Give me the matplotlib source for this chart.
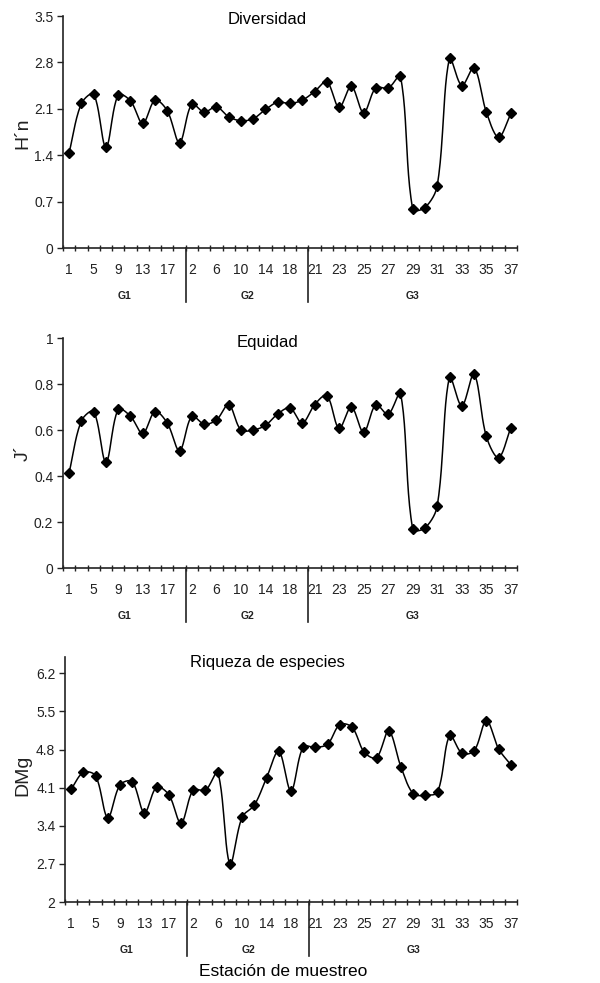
import numpy as np
import matplotlib
matplotlib.use("Agg")
import matplotlib.pyplot as plt

plt.rcParams['font.family'] = ['Liberation Sans Narrow', 'Liberation Sans', 'DejaVu Sans']

# station labels (every other one shown)
pos = np.arange(1, 38)
tick_pos = list(range(1, 38, 2))
tick_lab = ['1', '5', '9', '13', '17', '2', '6', '10', '14', '18',
            '21', '23', '25', '27', '29', '31', '33', '35', '37']
groups = ['G1', 'G2', 'G3']
group_x = [5.5, 15.5, 29]
sep_x = [10.5, 20.5]

h_n = [1.44, 2.18, 2.32, 1.52, 2.31, 2.22, 1.88, 2.23, 2.07, 1.59,
       2.17, 2.05, 2.13, 1.98, 1.92, 1.95, 2.09, 2.20, 2.18, 2.23,
       2.36, 2.51, 2.12, 2.44, 2.04, 2.42, 2.41, 2.59, 0.59, 0.61,
       0.94, 2.86, 2.45, 2.72, 2.05, 1.67, 2.03]
j_eq = [0.415, 0.64, 0.68, 0.46, 0.69, 0.66, 0.585, 0.68, 0.63, 0.51,
        0.66, 0.626, 0.643, 0.71, 0.60, 0.60, 0.62, 0.67, 0.696, 0.63,
        0.71, 0.75, 0.607, 0.70, 0.59, 0.71, 0.668, 0.76, 0.17, 0.174,
        0.27, 0.83, 0.704, 0.843, 0.572, 0.48, 0.61]
dmg = [4.07, 4.38, 4.32, 3.55, 4.15, 4.21, 3.64, 4.11, 3.97, 3.45,
       4.06, 4.05, 4.38, 2.70, 3.56, 3.78, 4.28, 4.77, 4.04, 4.85,
       4.84, 4.90, 5.26, 5.21, 4.75, 4.65, 5.14, 4.48, 3.99, 3.96,
       4.02, 5.06, 4.73, 4.78, 5.33, 4.81, 4.52]


def smooth(x, y, sx, sy, n=24):
    # excel-like smoothed line: bezier, control points scaled by segment length
    # (done in pixel space so steep drops don't overshoot much)
    P = np.column_stack([np.asarray(x, float) * sx, np.asarray(y, float) * sy])
    m = len(P)
    xs, ys = [], []
    for i in range(m - 1):
        p0 = P[max(i - 1, 0)]
        p1 = P[i]
        p2 = P[i + 1]
        p3 = P[min(i + 2, m - 1)]
        d12 = np.linalg.norm(p2 - p1)
        d01 = np.linalg.norm(p1 - p0)
        d23 = np.linalg.norm(p3 - p2)
        t1 = (p2 - p0) / max(d01 + d12, 1e-9) * d12 / 3
        t2 = (p3 - p1) / max(d12 + d23, 1e-9) * d12 / 3
        c1 = p1 + t1
        c2 = p2 - t2
        t = np.linspace(0, 1, n)[:, None]
        b = (1 - t)**3 * p1 + 3 * (1 - t)**2 * t * c1 + 3 * (1 - t) * t**2 * c2 + t**3 * p2
        xs.extend(b[:, 0] / sx)
        ys.extend(b[:, 1] / sy)
    return xs, ys


W, H = 600, 983
fig = plt.figure(figsize=(6, 9.83), dpi=100)

panels = [
    (h_n, 'H´n', 'Diversidad', (0, 3.5), np.arange(0, 3.51, 0.7), 63, 16, 248),
    (j_eq, 'J´', 'Equidad', (0, 1), np.arange(0, 1.01, 0.2), 63, 338, 568),
    (dmg, 'DMg', 'Riqueza de especies', (2, 6.5), np.arange(2, 6.21, 0.7), 65, 657, 902),
]
title_y = [19, 342, 663]
ylab_y = [133, 453, 775]

col = '#222222'
for k, (vals, ylab, title, ylim, yt, left, top, bottom) in enumerate(panels):
    ax = fig.add_axes([left / W, (H - bottom) / H, (517 - left) / W, (bottom - top) / H])
    hpx = bottom - top
    sx = (517 - left) / 37.0
    sy = hpx / (ylim[1] - ylim[0])
    xs, ys = smooth(pos, vals, sx, sy)
    ax.plot(xs, ys, color='black', lw=1.1)
    ax.plot(pos, vals, 'D', color='black', ms=5)
    ax.set_xlim(0.5, 37.5)
    ax.set_ylim(*ylim)
    ax.set_yticks(yt)
    labs = []
    for v in yt:
        s = ('%.1f' % v).rstrip('0').rstrip('.')
        labs.append(s if s else '0')
    ax.set_yticklabels(labs, fontsize=10, color=col)
    ax.set_xticks(tick_pos)
    ax.set_xticklabels(tick_lab, fontsize=10, color=col)
    ax.set_xticks(np.arange(0.5, 38, 1), minor=True)
    ax.tick_params(axis='x', which='major', length=0, pad=11)
    ax.tick_params(axis='x', which='minor', length=4, width=1, direction='inout', color=col)
    ax.tick_params(axis='y', length=4, width=1, direction='out', color=col, pad=3)
    for s in ['top', 'right']:
        ax.spines[s].set_visible(False)
    for s in ['left', 'bottom']:
        ax.spines[s].set_color(col)
        ax.spines[s].set_linewidth(1.2)
    tr = ax.get_xaxis_transform()
    for sxp in sep_x:
        ax.plot([sxp, sxp], [0, -54 / hpx], transform=tr, color=col, lw=1.2, clip_on=False)
    for g, gx in zip(groups, group_x):
        ax.text(gx, -48 / hpx, g, transform=tr, ha='center', va='center',
                fontsize=7.5, fontweight='bold', color=col)
    fig.text(267 / W, 1 - title_y[k] / H, title, ha='center', va='center',
             fontsize=12, color='black')
    fig.text(23 / W, 1 - ylab_y[k] / H, ylab, ha='center', va='center',
             rotation=90, fontsize=14, color=col)

fig.text(283 / W, 1 - 972 / H, 'Estación de muestreo', ha='center', va='center',
         fontsize=12.5, color='black')

fig.savefig('out.png', dpi=100, facecolor='white')
